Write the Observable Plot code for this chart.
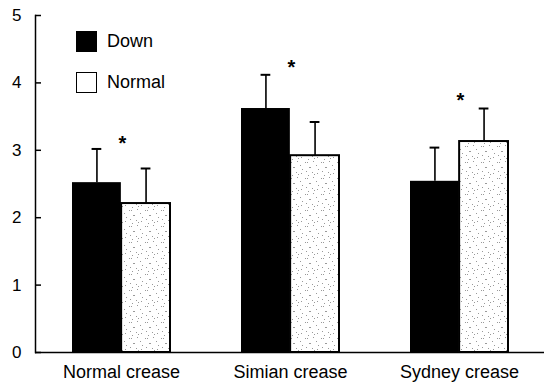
<!DOCTYPE html>
<html>
<head>
<meta charset="utf-8">
<script src="https://cdn.jsdelivr.net/npm/d3@7"></script>
<script src="https://cdn.jsdelivr.net/npm/@observablehq/plot@0.6"></script>
<style>
  body { margin: 0; background: #fff; }
  #wrap { position: relative; width: 550px; height: 384px; font-family: "Liberation Sans", Arial, sans-serif; }
  .leg { position: absolute; left: 76px; display: flex; align-items: center; font-size: 18px; color: #000; }
  .sw { width: 21px; height: 21px; box-sizing: border-box; margin-right: 10px; }
</style>
</head>
<body>
<div id="wrap">
  <div class="leg" style="top:31px"><div class="sw" style="background:#000"></div>Down</div>
  <div class="leg" style="top:72px"><div class="sw" style="background:#fff;border:1.5px solid #000"></div>Normal</div>
</div>
<script>
const categories = ["Normal crease", "Simian crease", "Sydney crease"];
const seriesNames = ["Down", "Normal"];
const downMeans = [2.52, 3.62, 2.54];
const downErr = [0.5, 0.5, 0.5];
const normalMeans = [2.21, 2.92, 3.13];
const normalErr = [0.52, 0.5, 0.49];
const starY = [3.22, 4.35, 3.85];
const yTicks = [0, 1, 2, 3, 4, 5];

const W = 550, H = 384, mL = 35, mR = 6, mT = 15, mB = 32;
const padIn = 0.421, padOut = 0.21;
const step = (W - mL - mR) / (categories.length - padIn + 2 * padOut);
const bw = step * (1 - padIn);
const half = bw / 2, quarter = bw / 4, cap = 5;

const down = categories.map((c, i) => ({cat: c, v: downMeans[i], e: downErr[i]}));
const normal = categories.map((c, i) => ({cat: c, v: normalMeans[i], e: normalErr[i]}));
const stars = categories.map((c, i) => ({cat: c, y: starY[i]}));

const chart = Plot.plot({
  width: W, height: H,
  marginLeft: mL, marginRight: mR, marginTop: mT, marginBottom: mB,
  style: {fontFamily: "Liberation Sans, Arial, sans-serif", background: "#fff", color: "#000"},
  x: {domain: categories, paddingInner: padIn, paddingOuter: padOut, label: null},
  y: {domain: [0, 5], label: null},
  marks: [
    Plot.barY(down, {x: "cat", y: "v", fill: "#000", insetRight: half}),
    Plot.barY(normal, {x: "cat", y: "v", fill: "url(#stip)", stroke: "#000", strokeWidth: 2, insetLeft: half}),
    Plot.ruleX(down, {x: "cat", y1: "v", y2: d => d.v + d.e, dx: -quarter, stroke: "#000", strokeWidth: 1.6}),
    Plot.ruleX(normal, {x: "cat", y1: "v", y2: d => d.v + d.e, dx: quarter, stroke: "#000", strokeWidth: 1.6}),
    Plot.tickY(down, {x: "cat", y: d => d.v + d.e, insetLeft: quarter - cap, insetRight: bw - quarter - cap, stroke: "#000", strokeWidth: 2}),
    Plot.tickY(normal, {x: "cat", y: d => d.v + d.e, insetLeft: bw - quarter - cap, insetRight: quarter - cap, stroke: "#000", strokeWidth: 2}),
    Plot.text(stars, {x: "cat", y: "y", text: () => "*", fontSize: 20, fontWeight: "bold", lineAnchor: "top", dx: 1}),
    Plot.ruleY([0], {stroke: "#000", strokeWidth: 1.5}),
    Plot.frame({anchor: "left", stroke: "#000", strokeWidth: 1.5}),
    Plot.axisY({ticks: yTicks, tickSize: -6, tickPadding: 20, fontSize: 17, tickFormat: d => String(d), stroke: "#000", strokeWidth: 1.5}),
    Plot.axisX({tickSize: 0, tickPadding: 13, fontSize: 18})
  ]
});

const svg = d3.select(chart);
const defs = svg.insert("defs", ":first-child");
const pat = defs.append("pattern").attr("id", "stip").attr("patternUnits", "userSpaceOnUse")
  .attr("width", 16).attr("height", 16);
pat.append("rect").attr("width", 16).attr("height", 16).attr("fill", "#fff");
[[1,2],[3,2],[9,1],[12,5],[5,7],[6,7],[14,9],[2,11],[8,12],[10,14],[4,15],[13,13]].forEach(([a,b]) =>
  pat.append("rect").attr("x", a).attr("y", b).attr("width", 1).attr("height", 1).attr("fill", "#999"));

document.getElementById("wrap").prepend(chart);
</script>
</body>
</html>
